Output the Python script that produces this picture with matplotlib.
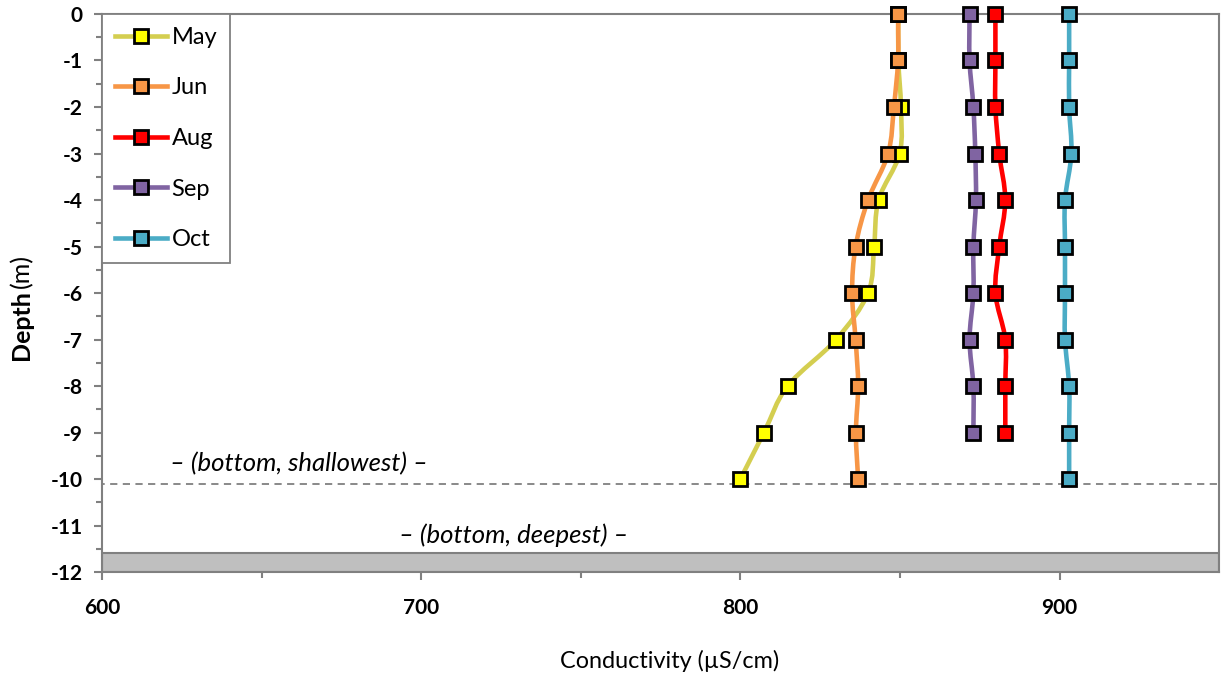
import matplotlib
matplotlib.use('Agg')
import matplotlib.pyplot as plt
from matplotlib.path import Path
from matplotlib.patches import PathPatch, Rectangle
from matplotlib.lines import Line2D
import numpy as np

plt.rcParams['font.family'] = ['Lato', 'DejaVu Sans']

""" ****** Data read off the chart **** """
depth = [0, -1, -2, -3, -4, -5, -6, -7, -8, -9, -10]

may = [849.5, 849.5, 850.3, 849.9, 843.3, 841.9, 840.0, 830.0, 814.8, 807.4, 800.0]
jun = [849.4, 849.4, 848.1, 846.3, 840.0, 836.1, 835.0, 836.1, 836.9, 836.2, 836.9]
aug = [879.9, 879.9, 879.9, 881.1, 883.0, 881.1, 879.9, 883.0, 883.0, 883.0]
sep = [871.8, 871.8, 873.0, 873.6, 873.8, 873.0, 873.0, 871.8, 873.0, 873.0]
octo = [903.0, 903.0, 903.0, 903.7, 901.7, 901.7, 901.7, 901.7, 903.0, 903.0, 903.0]

series = [('May', may, '#D4CE50', '#FFFF00'),
          ('Jun', jun, '#F79646', '#F79646'),
          ('Aug', aug, '#FF0000', '#FF0000'),
          ('Sep', sep, '#8064A2', '#8064A2'),
          ('Oct', octo, '#4BACC6', '#4BACC6')]

bottom_shallow = -10.1
bottom_deep = -11.6


def smooth_path(xs, ys):
    # Excel-style smoothed line: cubic bezier through the points
    pts = np.column_stack([xs, ys])
    verts = [pts[0]]
    codes = [Path.MOVETO]
    n = len(pts)
    for i in range(n - 1):
        p0 = pts[i - 1] if i > 0 else pts[i]
        p1 = pts[i]
        p2 = pts[i + 1]
        p3 = pts[i + 2] if i + 2 < n else pts[i + 1]
        c1 = p1 + (p2 - p0) / 6.0
        c2 = p2 - (p3 - p1) / 6.0
        verts += [c1, c2, p2]
        codes += [Path.CURVE4] * 3
    return Path(verts, codes)


fig = plt.figure(figsize=(12.21, 6.76), dpi=100)
ax = fig.add_axes([0.0835, 0.1538, 0.915, 0.8255])

ax.set_xlim(600, 950)
ax.set_ylim(-12, 0)

# bottom zones
ax.add_patch(Rectangle((600, bottom_deep), 350, bottom_shallow - bottom_deep, facecolor='none',
                       edgecolor='#808080', linestyle=(0, (4, 3)), linewidth=1.3, zorder=1))
ax.add_patch(Rectangle((600, -12), 350, bottom_deep + 12, facecolor='#BFBFBF',
                       edgecolor='#808080', linewidth=1.5, zorder=1))

handles = []
for name, vals, lc, mc in series:
    d = depth[:len(vals)]
    patch = PathPatch(smooth_path(vals, d), facecolor='none', edgecolor=lc, linewidth=3.3,
                      zorder=3, capstyle='round', joinstyle='round')
    ax.add_patch(patch)
    ax.plot(vals, d, linestyle='none', marker='s', markersize=10.5, markerfacecolor=mc,
            markeredgecolor='black', markeredgewidth=2, zorder=4, clip_on=False)
    handles.append(Line2D([], [], color=lc, linewidth=3.3, marker='s', markersize=10.5,
                          markerfacecolor=mc, markeredgecolor='black', markeredgewidth=2))

ax.text(621.3, -9.66, '\u2013 (bottom, shallowest) \u2013', fontsize=18.5, style='italic', va='center')
ax.text(693.1, -11.2, '\u2013 (bottom, deepest) \u2013', fontsize=18.5, style='italic', va='center')

for s in ax.spines.values():
    s.set_color('#808080')
    s.set_linewidth(1.5)

ax.set_xticks([600, 700, 800, 900])
ax.set_xticks([650, 750, 850], minor=True)
ax.set_yticks(np.arange(-12, 0.5, 1))
ax.set_yticks(np.arange(-11.5, 0, 1), minor=True)
ax.set_yticklabels([str(int(v)) for v in np.arange(-12, 0.5, 1)])
ax.tick_params(axis='both', which='both', color='#808080', width=1.5, direction='out')
ax.tick_params(axis='both', which='major', length=6, labelsize=15)
ax.tick_params(axis='both', which='minor', length=4)
ax.tick_params(axis='x', pad=13)
ax.tick_params(axis='y', pad=8)
for lab in ax.get_xticklabels() + ax.get_yticklabels():
    lab.set_fontweight('bold')

fig.text(0.5487, 0.022, 'Conductivity (\u00b5S/cm)', fontsize=16.8, ha='center', va='center')
fig.text(0.018, 0.519, 'Depth', fontsize=18, fontweight='bold', rotation=90, ha='center', va='center')
fig.text(0.018, 0.599, '(m)', fontsize=18, rotation=90, ha='center', va='center')

leg = ax.legend(handles, [s[0] for s in series], loc='upper left', fontsize=17,
                borderaxespad=0, handlelength=2.2, labelspacing=1.25, handletextpad=0.2,
                borderpad=0.55, fancybox=False, framealpha=1, edgecolor='#808080')
leg.get_frame().set_linewidth(1.3)
leg.set_zorder(5)

plt.savefig('out.png', dpi=100)
